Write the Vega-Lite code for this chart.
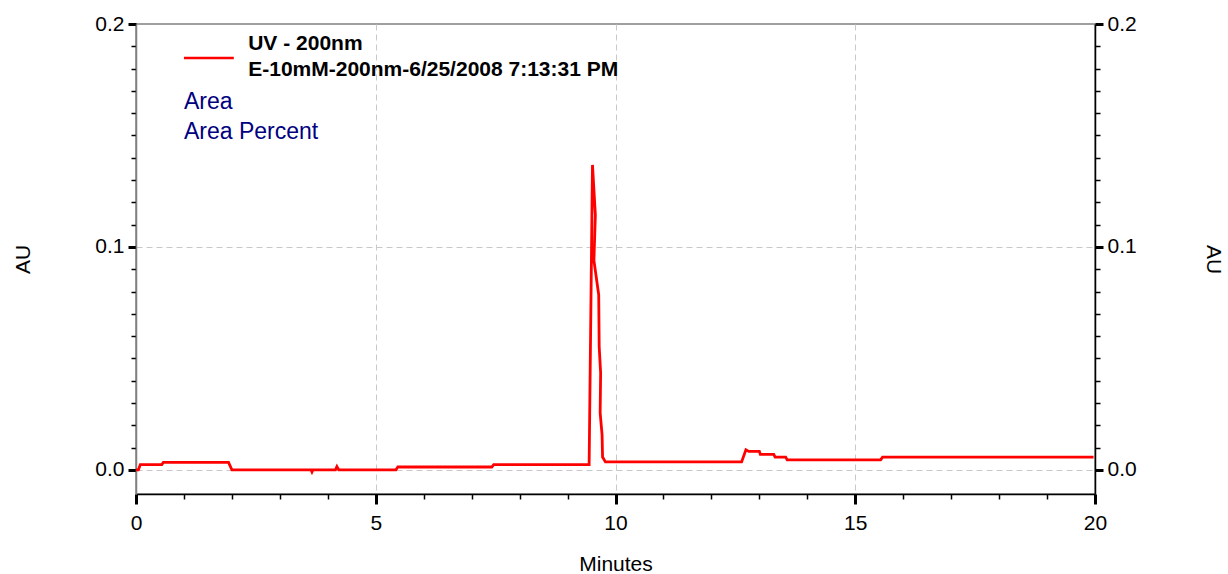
{
  "$schema": "https://vega.github.io/schema/vega-lite/v6.json",
  "width": 959,
  "height": 470,
  "autosize": {"type": "none"},
  "padding": {"left": 136, "top": 24, "right": 133, "bottom": 80},
  "background": "white",
  "config": {
    "view": {"stroke": "#808080", "strokeWidth": 1.5},
    "font": "Liberation Sans",
    "axis": {
      "labelFont": "Liberation Sans",
      "titleFont": "Liberation Sans",
      "labelFontSize": 21,
      "titleFontSize": 21,
      "titleFontWeight": "normal",
      "labelColor": "black",
      "titleColor": "black",
      "tickColor": "black",
      "gridColor": "#c8c8c8",
      "gridDash": [6, 4],
      "gridWidth": 1
    }
  },
  "datasets": {
    "trace": [
      {"i": 1, "t": 0.0, "au": 0.0},
      {"i": 2, "t": 0.05, "au": 0.0},
      {"i": 3, "t": 0.09, "au": 0.0024},
      {"i": 4, "t": 0.54, "au": 0.0024},
      {"i": 5, "t": 0.57, "au": 0.0034},
      {"i": 6, "t": 1.93, "au": 0.0034},
      {"i": 7, "t": 2.0, "au": 0.0},
      {"i": 8, "t": 3.65, "au": 0.0},
      {"i": 9, "t": 3.67, "au": -0.0009},
      {"i": 10, "t": 3.69, "au": 0.0},
      {"i": 11, "t": 4.16, "au": 0.0},
      {"i": 12, "t": 4.19, "au": 0.0015},
      {"i": 13, "t": 4.23, "au": 0.0},
      {"i": 14, "t": 5.42, "au": 0.0},
      {"i": 15, "t": 5.46, "au": 0.0013},
      {"i": 16, "t": 7.42, "au": 0.0013},
      {"i": 17, "t": 7.46, "au": 0.0024},
      {"i": 18, "t": 9.45, "au": 0.0024},
      {"i": 19, "t": 9.52, "au": 0.1368},
      {"i": 20, "t": 9.58, "au": 0.1143},
      {"i": 21, "t": 9.55, "au": 0.094},
      {"i": 22, "t": 9.65, "au": 0.0785},
      {"i": 23, "t": 9.66, "au": 0.0552},
      {"i": 24, "t": 9.69, "au": 0.0435},
      {"i": 25, "t": 9.68, "au": 0.0256},
      {"i": 26, "t": 9.72, "au": 0.0157},
      {"i": 27, "t": 9.73, "au": 0.0058},
      {"i": 28, "t": 9.79, "au": 0.0036},
      {"i": 29, "t": 12.63, "au": 0.0036},
      {"i": 30, "t": 12.72, "au": 0.009},
      {"i": 31, "t": 12.78, "au": 0.0083},
      {"i": 32, "t": 13.0, "au": 0.0083},
      {"i": 33, "t": 13.02, "au": 0.007},
      {"i": 34, "t": 13.3, "au": 0.007},
      {"i": 35, "t": 13.33, "au": 0.0057},
      {"i": 36, "t": 13.55, "au": 0.0057},
      {"i": 37, "t": 13.58, "au": 0.0045},
      {"i": 38, "t": 15.53, "au": 0.0045},
      {"i": 39, "t": 15.57, "au": 0.0057},
      {"i": 40, "t": 19.97, "au": 0.0057}
    ],
    "legendLine": [
      {"t": 1.0, "t2": 2.04, "au": 0.1848}
    ],
    "legendText": [
      {"t": 2.34, "au": 0.1911, "label": "UV - 200nm"},
      {"t": 2.34, "au": 0.1794, "label": "E-10mM-200nm-6/25/2008 7:13:31 PM"}
    ],
    "areaText": [
      {"t": 1.0, "au": 0.165, "label": "Area"},
      {"t": 1.0, "au": 0.1516, "label": "Area Percent"}
    ]
  },
  "layer": [
    {
      "data": {"name": "trace"},
      "mark": {"type": "line", "color": "#ff0000", "strokeWidth": 2.8, "clip": true},
      "encoding": {
        "x": {
          "field": "t", "type": "quantitative",
          "scale": {"domain": [0, 20], "nice": false, "zero": false},
          "axis": {
            "title": "Minutes",
            "titlePadding": 20,
            "values": [0,1,2,3,4,5,6,7,8,9,10,11,12,13,14,15,16,17,18,19,20],
            "format": "d",
            "labelExpr": "datum.value % 5 === 0 ? datum.label : ''",
            "labelPadding": 8,
            "labelFlush": false,
            "labelOverlap": false,
            "domainColor": "black",
            "domainWidth": 1.5,
            "tickSize": {"condition": {"test": "datum.value % 5 === 0", "value": 10}, "value": 5},
            "tickWidth": {"condition": {"test": "datum.value % 5 === 0", "value": 3}, "value": 1.5},
            "grid": true,
            "gridOpacity": {"condition": {"test": "datum.value % 5 === 0 && datum.value > 0 && datum.value < 20", "value": 1}, "value": 0}
          }
        },
        "y": {
          "field": "au", "type": "quantitative",
          "scale": {"domain": [-0.0108, 0.2], "nice": false, "zero": false},
          "axis": {
            "title": "AU",
            "titlePadding": 61,
            "values": [0,0.01,0.02,0.03,0.04,0.05,0.06,0.07,0.08,0.09,0.1,0.11,0.12,0.13,0.14,0.15,0.16,0.17,0.18,0.19,0.2],
            "format": ".1f",
            "labelExpr": "round(datum.value*100) % 10 === 0 ? datum.label : ''",
            "labelPadding": 4,
            "labelFlush": false,
            "labelOverlap": false,
            "domainColor": "#808080",
            "domainWidth": 1.5,
            "tickSize": {"condition": {"test": "round(datum.value*100) % 10 === 0", "value": 8}, "value": 5},
            "tickWidth": {"condition": {"test": "round(datum.value*100) % 10 === 0", "value": 3}, "value": 1.5},
            "grid": true,
            "gridOpacity": {"condition": {"test": "round(datum.value*100) % 10 === 0 && datum.value < 0.15", "value": 1}, "value": 0}
          }
        },
        "order": {"field": "i", "type": "quantitative"}
      }
    },
    {
      "data": {"name": "legendLine"},
      "mark": {"type": "rule", "color": "#ff0000", "strokeWidth": 2.5},
      "encoding": {
        "x": {"field": "t", "type": "quantitative"},
        "x2": {"field": "t2"},
        "y": {
          "field": "au", "type": "quantitative",
          "axis": {
            "orient": "right",
            "title": "AU",
            "titlePadding": 66,
            "values": [0,0.01,0.02,0.03,0.04,0.05,0.06,0.07,0.08,0.09,0.1,0.11,0.12,0.13,0.14,0.15,0.16,0.17,0.18,0.19,0.2],
            "format": ".1f",
            "labelExpr": "round(datum.value*100) % 10 === 0 ? datum.label : ''",
            "labelPadding": 4,
            "labelFlush": false,
            "labelOverlap": false,
            "domainColor": "black",
            "domainWidth": 1.5,
            "tickSize": {"condition": {"test": "round(datum.value*100) % 10 === 0", "value": 8}, "value": 5},
            "tickWidth": {"condition": {"test": "round(datum.value*100) % 10 === 0", "value": 3}, "value": 1.5},
            "grid": false
          }
        }
      }
    },
    {
      "data": {"name": "legendText"},
      "mark": {"type": "text", "align": "left", "baseline": "middle", "fontSize": 21, "fontWeight": "bold", "font": "Liberation Sans", "color": "black"},
      "encoding": {
        "x": {"field": "t", "type": "quantitative"},
        "y": {"field": "au", "type": "quantitative", "axis": null},
        "text": {"field": "label"}
      }
    },
    {
      "data": {"name": "areaText"},
      "mark": {"type": "text", "align": "left", "baseline": "middle", "fontSize": 23, "font": "Liberation Sans", "color": "#000080"},
      "encoding": {
        "x": {"field": "t", "type": "quantitative"},
        "y": {"field": "au", "type": "quantitative", "axis": null},
        "text": {"field": "label"}
      }
    }
  ],
  "resolve": {"axis": {"y": "independent"}}
}
